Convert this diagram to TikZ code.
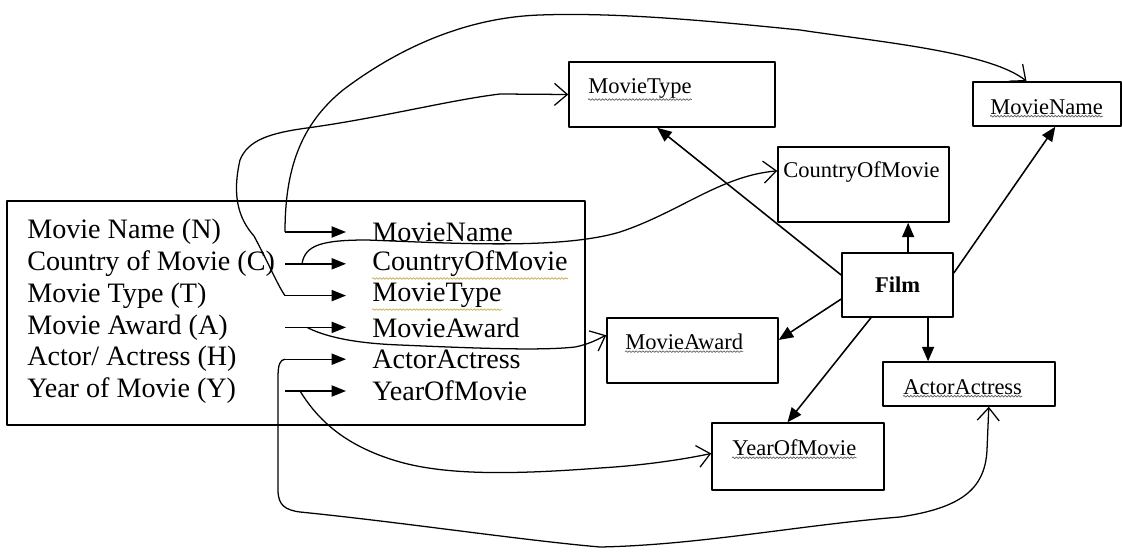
\documentclass[tikz,border=0pt]{standalone}
\usepackage{fontspec}
\setmainfont{Liberation Serif}
\usetikzlibrary{arrows.meta,decorations.pathmorphing}
\definecolor{squigGold}{RGB}{196,170,70}
\definecolor{squigGrey}{RGB}{95,95,95}

\begin{document}
\begin{tikzpicture}[x=0.025cm,y=-0.025cm,line join=round,
  listtext/.style={anchor=west,inner sep=0pt,font=\fontsize{20}{24}\selectfont},
  boxtext/.style={anchor=west,inner sep=0pt,font=\fontsize{16}{19}\selectfont},
  entity/.style 2 args={draw,line width=1.1pt,inner sep=0pt,
    minimum width=#1*0.025cm,minimum height=#2*0.025cm},
  listarrow/.style={line width=1pt,shorten >=0.65cm,-{Triangle[length=3.6mm,width=2.8mm]}},
  filmarrow/.style={line width=1.1pt,-{Triangle[length=3.6mm,width=3mm]}},
  handarrow/.style={line width=0.9pt,-{Straight Barb[length=3.2mm,width=5.5mm]}},
  squiggle/.style={draw=#1,line width=0.5pt,decorate,
    decoration={snake,amplitude=0.6pt,segment length=2.4pt}}]

% fixed canvas, 1123 x 552 px
\useasboundingbox (0,0) rectangle (1123,552);

% attribute list box
\node[entity={578}{224}] (listBox) at (296,313) {};

\node[listtext] (srcN) at (27,232)   {Movie Name (N)};
\node[listtext] (srcC) at (27,263.8) {Country of Movie (C)};
\node[listtext] (srcT) at (27,295.6) {Movie Type (T)};
\node[listtext] (srcA) at (27,327.4) {Movie Award (A)};
\node[listtext] (srcH) at (27,359.2) {Actor/ Actress (H)};
\node[listtext] (srcY) at (27,391)   {Year of Movie (Y)};

\node[listtext] (dstN) at (372,232)   {MovieName};
\node[listtext] (dstC) at (372,263.8) {CountryOfMovie};
\node[listtext] (dstT) at (372,295.6) {MovieType};
\node[listtext] (dstA) at (372,327.4) {MovieAward};
\node[listtext] (dstH) at (372,359.2) {ActorActress};
\node[listtext] (dstY) at (372,391)   {YearOfMovie};

% spell-check underlines
\draw[squiggle=squigGold] ([yshift=-1pt]dstC.south west) -- ([yshift=-1pt]dstC.south east);
\draw[squiggle=squigGold] ([yshift=-1pt]dstT.south west) -- ([yshift=-1pt]dstT.south east);

% arrow tails
\coordinate (tailN) at (285,232);
\coordinate (tailC) at (285,263.8);
\coordinate (tailT) at (285,295.6);
\coordinate (tailA) at (285,327.4);
\coordinate (tailH) at (285,359.2);
\coordinate (tailY) at (285,391);

\draw[listarrow] (tailN) -- (dstN.west);
\draw[listarrow] (tailC) -- (dstC.west);
\draw[listarrow] (tailT) -- (dstT.west);
\draw[listarrow] (tailA) -- (dstA.west);
\draw[listarrow] (tailH) -- (dstH.west);
\draw[listarrow] (tailY) -- (dstY.west);

% entity boxes
\node[entity={206}{65}] (typeBox)  at (672,94.5)   {};
\node[entity={148}{44}] (nameBox)  at (1047,104)   {};
\node[entity={171}{75}] (cntBox)   at (863.5,184.5) {};
\node[entity={111}{64},font=\fontsize{16}{19}\selectfont\bfseries] (film) at (897.5,285) {Film};
\node[entity={171}{65}] (awardBox) at (692.5,350.5) {};
\node[entity={172}{44}] (actorBox) at (969,384)    {};
\node[entity={172}{67}] (yearBox)  at (798,456.5)  {};

\node[boxtext] (typeTxt)  at (588,88)  {MovieType};
\node[boxtext] (nameTxt)  at (990,107) {MovieName};
\node[boxtext] (cntTxt)   at (783,172) {CountryOfMovie};
\node[boxtext] (awardTxt) at (625,342) {MovieAward};
\node[boxtext] (actorTxt) at (903,387) {ActorActress};
\node[boxtext] (yearTxt)  at (732,448) {YearOfMovie};

\draw[squiggle=squigGrey] ([yshift=-1pt]typeTxt.south west) -- ([yshift=-1pt]typeTxt.south east);
\draw[squiggle=squigGrey] ([yshift=-1pt]nameTxt.south west) -- ([yshift=-1pt]nameTxt.south east);
\draw[squiggle=squigGrey] ([yshift=-1pt]awardTxt.south west) -- ([yshift=-1pt]awardTxt.south east);
\draw[squiggle=squigGrey] ([yshift=-1pt]actorTxt.south west) -- ([yshift=-1pt]actorTxt.south east);
\draw[squiggle=squigGrey] ([yshift=-1pt]yearTxt.south west) -- ([yshift=-1pt]yearTxt.south east);

% Film to its attributes
\draw[filmarrow] (film.170) -- (typeBox.246);
\draw[filmarrow] (film.72) -- (film.72 |- cntBox.south);
\draw[filmarrow] (film.12) -- (nameBox.290);
\draw[filmarrow] (film.194) -- (awardBox.7);
\draw[filmarrow] (film.231) -- (yearBox.107);
\draw[filmarrow] (film.313) -- (film.313 |- actorBox.north);

% hand drawn mapping curves
\coordinate (bendC) at (302,263.8);
\coordinate (bendA) at (307,327.4);
\coordinate (bendY) at (300,391);

\draw[handarrow] (tailN) .. controls (285,170) and (300,125) .. (343,90)
  .. controls (380,62) and (450,18) .. (540,15)
  .. controls (620,12) and (720,22) .. (800,30)
  .. controls (880,42) and (990,52) .. (nameBox.132);

\draw[handarrow] (tailT) .. controls (278,286) and (268,262) .. (254,236)
  .. controls (238,218) and (232,195) .. (240,160)
  .. controls (248,140) and (270,133) .. (307,128)
  .. controls (380,118) and (450,100) .. (500,94) -- (typeBox.west);

\draw[handarrow] (bendC) .. controls (305,245) and (322,240) .. (367,240)
  .. controls (450,243) and (560,250) .. (620,232)
  .. controls (680,212) and (720,176) .. (cntBox.171);

\draw[handarrow] (bendA) .. controls (320,334) and (345,343) .. (400,345)
  .. controls (470,348) and (540,351) .. (575,347)
  .. controls (590,344) and (598,339) .. (awardBox.170);

\draw[handarrow] (bendY) .. controls (315,415) and (340,445) .. (400,462)
  .. controls (450,476) and (520,474) .. (600,468)
  .. controls (650,465) and (690,458) .. (yearBox.178);

\draw[handarrow] (tailH) .. controls (280,360) and (278,364) .. (278,378) -- (278,490)
  .. controls (278,505) and (285,510) .. (300,512)
  .. controls (400,522) and (520,540) .. (600,547)
  .. controls (700,545) and (800,525) .. (900,517)
  .. controls (960,508) and (985,490) .. (987,450) -- (actorBox.311);

\end{tikzpicture}
\end{document}
